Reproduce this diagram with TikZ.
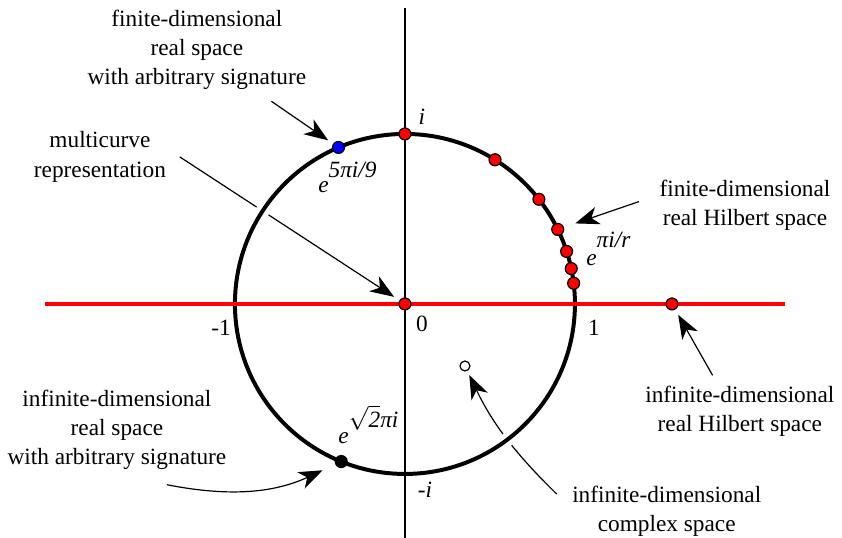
\documentclass[tikz,border=0pt]{standalone}
\usepackage{fontspec}
\setmainfont{Liberation Serif}
\usetikzlibrary{arrows.meta, positioning, calc}
\tikzset{
	dotnode/.style={
			circle,
			draw=black,
			line width=0.6pt,
			minimum size=6pt,
			inner sep=0pt
		},
	reddot/.style={
			dotnode,
			fill=red
		},
	bluedot/.style={
			dotnode,
			fill=blue
		},
	blackdot/.style={
			dotnode,
			fill=black
		},
	opendot/.style={
			dotnode,
			fill=white,
			minimum size=5pt
		},
	labeltext/.style={
			align=center,
			font=\fontsize{11.7}{14.6}\selectfont
		},
	mathtext/.style={
			font=\fontsize{11.7}{14.6}\selectfont\itshape
		},
	exptext/.style={
			mathtext,
			anchor=base west,
			inner sep=0pt
		},
	pointer/.style={
			-{Stealth[length=12pt, width=9pt, inset=3.5pt]},
			line width=0.6pt
		}
}

\begin{document}
\begin{tikzpicture}[x=3cm, y=3cm]
        \useasboundingbox (-2.382,-1.376) rectangle (2.571,1.788);

        % descriptions
        \node[labeltext] at (-1.224,1.494) (finreal) {finite-dimensional\\real space\\with arbitrary signature};
        \node[labeltext] at (-1.794,0.865) (multi) {multicurve\\representation};
        \node[labeltext] at (2.0,0.582) (finhil) {finite-dimensional\\real Hilbert space};
        \node[labeltext] at (-1.694,-0.741) (infreal) {infinite-dimensional\\real space\\with arbitrary signature};
        \node[labeltext] at (1.97,-0.63) (infhil) {infinite-dimensional\\real Hilbert space};
        \node[labeltext] at (1.54,-1.218) (cplx) {infinite-dimensional\\complex space};

        \coordinate (origin) at (0,0);
        \coordinate (cplxpos) at (0.353,-0.365);

        % these two pass under the circle
        \draw[pointer, shorten >=6.5pt] ($(multi.east)+(0.04,0)$) -- (origin);
        \draw[pointer, shorten >=5pt] ($(cplx.north west)+(-0.05,-0.09)$) to[bend left=10] (cplxpos);

        % unit circle, cutting the pointers
        \draw[line width=2pt, preaction={draw=white, line width=7pt}] (origin) circle (1);

        % axes
        \coordinate (top) at (0,1.741);
        \coordinate (bot) at (0,-1.376);
        \coordinate (left) at (-2.118,0);
        \coordinate (right) at (2.235,0);
        \draw[line width=0.8pt] (bot) -- (top);
        \draw[red, line width=1.6pt] (left) -- (right);

        % points
        \node[reddot] at (origin) (zero) {};
        \node[reddot] at (1.571,0) (beyond) {};
        \node[opendot] at (cplxpos) (cplxpt) {};
        \foreach \a in {90,58,38,26,18,12,7}
          \node[reddot] at (\a:1) (r\a) {};
        \node[bluedot] at (113:1) (blue) {};
        \node[blackdot] at (248:1) (black) {};

        % axis labels
        \node[mathtext] at (0.1,1.1) (ilbl) {i};
        \node[mathtext] at (0.118,-1.094) (milbl) {{\upshape -}i};
        \node[labeltext] at (0.1,-0.118) (zerolbl) {0};
        \node[labeltext] at (-1.082,-0.141) (monelbl) {-1};
        \node[labeltext] at (1.112,-0.141) (onelbl) {1};

        % exponentials
        \node[exptext] at (-0.512,0.653) (efive) {e\raisebox{8pt}{5πi/9}};
        \node[exptext] at (1.065,0.224) (er) {e\raisebox{9pt}{πi/r}};
        \node[exptext] at (-0.394,-0.818) (esqrt) {e\raisebox{8pt}{$\sqrt{\hbox{\itshape 2}}$πi}};

        \draw[pointer, shorten <=4pt, shorten >=3pt] (finreal) -- (blue);
        \draw[pointer, shorten >=6pt] ($(finhil.west)+(-0.08,0.02)$) -- (r26);
        \draw[pointer, shorten >=3pt] ($(infhil.north)+(-0.16,0.02)$) -- (beyond);
        \draw[pointer, shorten >=7pt] ($(infreal.south)+(0.294,-0.047)$) to[bend right=18] (black);
\end{tikzpicture}
\end{document}
